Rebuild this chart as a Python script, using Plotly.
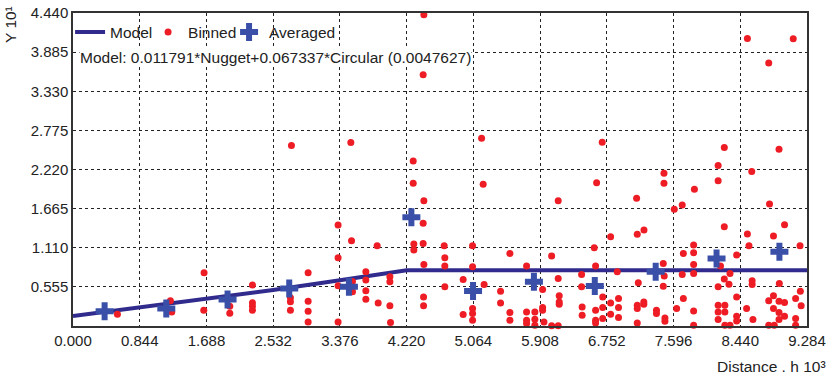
import plotly.graph_objects as go

# ---- data ----
model_x = [0.0, 0.844, 1.688, 2.532, 3.376, 4.22, 9.284]
model_y = [0.14, 0.26, 0.39, 0.51, 0.65, 0.79, 0.79]

avg_x = [0.40, 1.18, 1.955, 2.735, 3.49, 4.28, 5.06, 5.83, 6.60, 7.37, 8.14, 8.935]
avg_y = [0.21, 0.25, 0.377, 0.533, 0.556, 1.542, 0.497, 0.627, 0.566, 0.769, 0.959, 1.053]

bin_x = [0.562, 1.232, 1.249, 1.658, 1.654, 1.983, 1.983, 2.27, 2.27, 2.27, 2.27,
         2.75, 2.75, 2.75, 2.763, 2.974, 2.974, 2.974, 2.974, 3.353, 3.353, 3.353, 3.353,
         3.514, 3.523, 3.535, 3.535, 3.704, 3.704, 3.704, 3.704, 3.847, 3.86, 4.008, 4.008,
         4.008, 4.016, 4.303, 4.303, 4.311, 4.311, 4.438, 4.429, 4.438, 4.429, 4.429, 4.438,
         4.434, 4.434, 4.695, 4.703, 4.703, 4.703, 4.935, 4.935, 5.054, 5.054, 5.054, 5.054,
         5.054, 5.168, 5.188, 5.2, 5.408, 5.408, 5.526, 5.526, 5.526, 5.737, 5.737, 5.737,
         5.737, 5.842, 5.842, 5.842, 5.94, 5.94, 5.94, 5.957, 6.054, 6.054, 6.137, 6.137,
         6.137, 6.15, 6.15, 6.15, 6.433, 6.433, 6.44, 6.44, 6.593, 6.61, 6.61, 6.61, 6.61,
         6.623, 6.694, 6.7, 6.7, 6.7, 6.8, 6.8, 6.8, 6.884, 6.9, 6.9, 6.9, 7.129, 7.137,
         7.15, 7.137, 7.137, 7.137, 7.222, 7.22, 7.22, 7.38, 7.38, 7.466, 7.478, 7.466,
         7.475, 7.475, 7.487, 7.487, 7.605, 7.635, 7.706, 7.706, 7.72, 7.72, 7.85, 7.85,
         7.85, 7.85, 7.85, 7.85, 7.86, 8.16, 8.16, 8.16, 8.16, 8.16, 8.16, 8.19, 8.238,
         8.238, 8.238, 8.245, 8.245, 8.245, 8.297, 8.31, 8.31, 8.394, 8.394, 8.394, 8.394,
         8.52, 8.53, 8.53, 8.55, 8.585, 8.59, 8.59, 8.6, 8.8, 8.8, 8.81, 8.8, 8.86, 8.86,
         8.86, 8.87, 8.93, 8.934, 8.93, 8.93, 8.93, 9.0, 9.0, 9.0, 9.11, 9.14, 9.14, 9.14,
         9.196, 9.2, 9.21]
bin_y = [0.168, 0.357, 0.2, 0.755, 0.224, 0.28, 0.18, 0.58, 0.33, 0.28, 0.225,
         0.40, 0.345, 0.225, 2.559, 0.755, 0.352, 0.21, 0.058, 1.432, 0.968, 0.57, 0.058,
         2.602, 1.209, 0.63, 0.485, 0.769, 0.651, 0.499, 0.381, 1.138, 0.328, 0.698, 0.627,
         0.286, 0.05, 2.34, 2.025, 1.162, 1.077, 4.416, 3.564, 1.778, 1.456, 1.172, 0.874,
         0.413, 0.286, 1.138, 0.968, 0.85, 0.556, 0.661, 0.163, 1.138, 0.84, 0.249, 0.178,
         0.082, 2.664, 2.011, 0.59, 0.494, 0.328, 1.03, 0.192, 0.082, 0.85, 0.2, 0.082,
         0.036, 0.2, 0.096, 0.011, 0.519, 0.263, 0.224, 0.058, 0.992, 0.005, 1.778, 0.675,
         0.005, 0.428, 0.342, 0.31, 0.732, 0.556, 0.271, 0.153, 1.11, 0.85, 0.224, 0.082, 0.044,
         2.033, 2.607, 0.413, 0.263, 0.106, 1.266, 0.328, 0.168, 0.769, 0.39, 0.263, 0.121, 1.812, 1.3,
         0.612, 0.296, 0.249, 0.044, 1.361, 0.342, 0.31, 0.224, 0.178, 0.888, 0.708, 0.565,
         2.167, 2.025, 0.115, 0.068, 1.655, 0.249, 1.716, 0.732, 1.03, 0.39, 1.148, 1.039,
         0.874, 0.746, 0.214, 0.011, 1.94, 2.275, 2.062, 0.556, 0.296, 0.2, 0.092, 0.85, 2.531,
         1.408, 0.665, 0.296, 0.2, 0.011, 0.594, 0.746, 0.011, 1.006, 0.413, 0.139, 0.072,
         0.249, 4.079, 1.304, 1.138, 2.19, 0.641, 0.59, 0.092, 3.73, 0.357, 1.73, 0.011, 1.276, 0.428,
         0.249, 0.011, 2.508, 0.604, 0.352, 0.192, 0.092, 1.437, 0.334, 0.139, 4.075, 0.39, 0.106, 0.011,
         1.138, 0.494, 0.286]

x_ticks = [0.844 * i for i in range(12)]
y_ticks = [0.555 * i for i in range(1, 9)]

FONT = "Liberation Sans, Arial, sans-serif"
TXT = "#222"

fig = go.Figure()
fig.add_trace(go.Scatter(x=model_x, y=model_y, mode="lines", name="Model",
                         line=dict(color="#302b8c", width=4), legendwidth=33))
fig.add_trace(go.Scatter(x=bin_x, y=bin_y, mode="markers", name="Binned",
                         marker=dict(color="#ee1c24", size=7), cliponaxis=False,
                         legendwidth=36))
fig.add_trace(go.Scatter(x=avg_x, y=avg_y, mode="markers", name="Averaged",
                         marker=dict(color="#3a50a8", size=15, symbol="cross"), cliponaxis=False))

fig.update_layout(
    width=830, height=377,
    margin=dict(l=73, r=23, t=13, b=51, autoexpand=False),
    paper_bgcolor="white", plot_bgcolor="white",
    font=dict(family=FONT, size=15, color=TXT),
    showlegend=True,
    legend=dict(orientation="h", x=-0.004, y=0.992, xanchor="left", yanchor="top",
                bgcolor="rgba(0,0,0,0)", font=dict(size=15.5, color=TXT),
                itemwidth=30, tracegroupgap=0, entrywidthmode="pixels"),
)
fig.update_xaxes(range=[0, 9.284], tickvals=x_ticks, ticktext=[f"{v:.3f}" for v in x_ticks],
                 showgrid=True, gridcolor="#222", griddash="dot", gridwidth=1,
                 showline=True, linecolor="#333", linewidth=1.5, mirror=True,
                 ticks="", zeroline=False, tickfont=dict(size=15, color=TXT))
fig.update_yaxes(range=[0, 4.44], tickvals=y_ticks, ticktext=[f"{v:.3f}" for v in y_ticks],
                 showgrid=True, gridcolor="#222", griddash="dot", gridwidth=1,
                 showline=True, linecolor="#333", linewidth=1.5, mirror=True,
                 ticks="", zeroline=False, tickfont=dict(size=15, color=TXT))

fig.add_annotation(text="Model: 0.011791*Nugget+0.067337*Circular (0.0047627)",
                   xref="paper", yref="paper", x=0.008, y=0.857, xanchor="left", yanchor="middle",
                   showarrow=False, font=dict(size=15.5, color=TXT), bgcolor="white", borderpad=0)
fig.add_annotation(text="Y 10¹", xref="paper", yref="paper", x=-0.086, y=1.03,
                   xanchor="center", yanchor="top", textangle=-90, showarrow=False,
                   font=dict(size=15.5, color=TXT))
fig.add_annotation(text="Distance . h 10³", xref="paper", yref="paper", x=1.029, y=-0.129,
                   xanchor="right", yanchor="middle", showarrow=False,
                   font=dict(size=15.5, color=TXT))

fig.write_html("out.html")
